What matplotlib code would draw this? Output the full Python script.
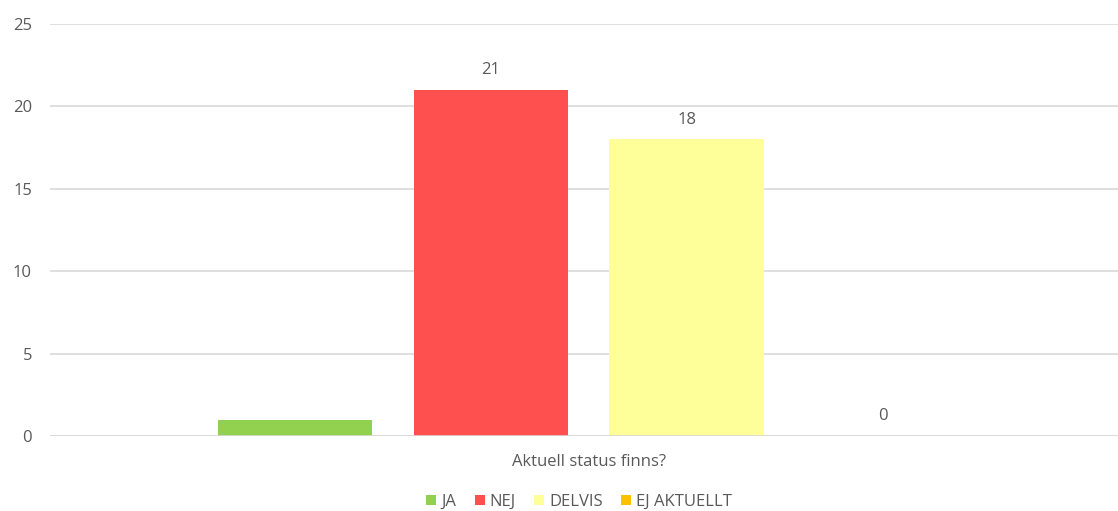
import matplotlib.pyplot as plt
import numpy as np

series = ['JA', 'NEJ', 'DELVIS', 'EJ AKTUELLT']
values = [1, 21, 18, 0]
shown_labels = [None, '21', '18', '0']
colors = ['#92D050', '#FF5050', '#FFFF99', '#FFC000']
category = 'Aktuell status finns?'
yticks = [0, 5, 10, 15, 20, 25]

plt.rcParams['font.family'] = ['Open Sans', 'DejaVu Sans']
txt = '#595959'
fs = 12

fig = plt.figure(figsize=(11.18, 5.11), dpi=100)
ax = fig.add_axes([50 / 1118, 75 / 511, 1068 / 1118, 412 / 511])

x = np.arange(len(series))
for i, (name, v, c) in enumerate(zip(series, values, colors)):
    ax.bar(x[i], v, width=0.79, color=c, label=name, zorder=3)
    if shown_labels[i] is not None:
        ax.text(x[i], v + 0.7, shown_labels[i], ha='center', va='bottom',
                fontsize=fs, color=txt)

ax.set_xlim(-1.25, 4.2)
ax.set_ylim(0, 25)
ax.set_yticks(yticks)
ax.set_xticks([])
ax.grid(axis='y', color='#D9D9D9', linewidth=1.2, zorder=0)
ax.tick_params(axis='y', length=0, pad=13, labelsize=fs, labelcolor=txt)
for s in ax.spines.values():
    s.set_visible(False)
ax.axhline(0, color='#D9D9D9', linewidth=1.2, zorder=4)

ax.text((x[0] + x[-1]) / 2, -1.55, category, ha='center', va='center',
        fontsize=fs, color=txt)

leg = ax.legend(loc='center', bbox_to_anchor=((1.45 + 1.25) / 5.45, -0.16),
                ncol=4, frameon=False, fontsize=fs, handlelength=0.6,
                handleheight=0.6, handletextpad=0.3, columnspacing=1.1)
for t in leg.get_texts():
    t.set_color(txt)

fig.savefig('out.png', dpi=100)
